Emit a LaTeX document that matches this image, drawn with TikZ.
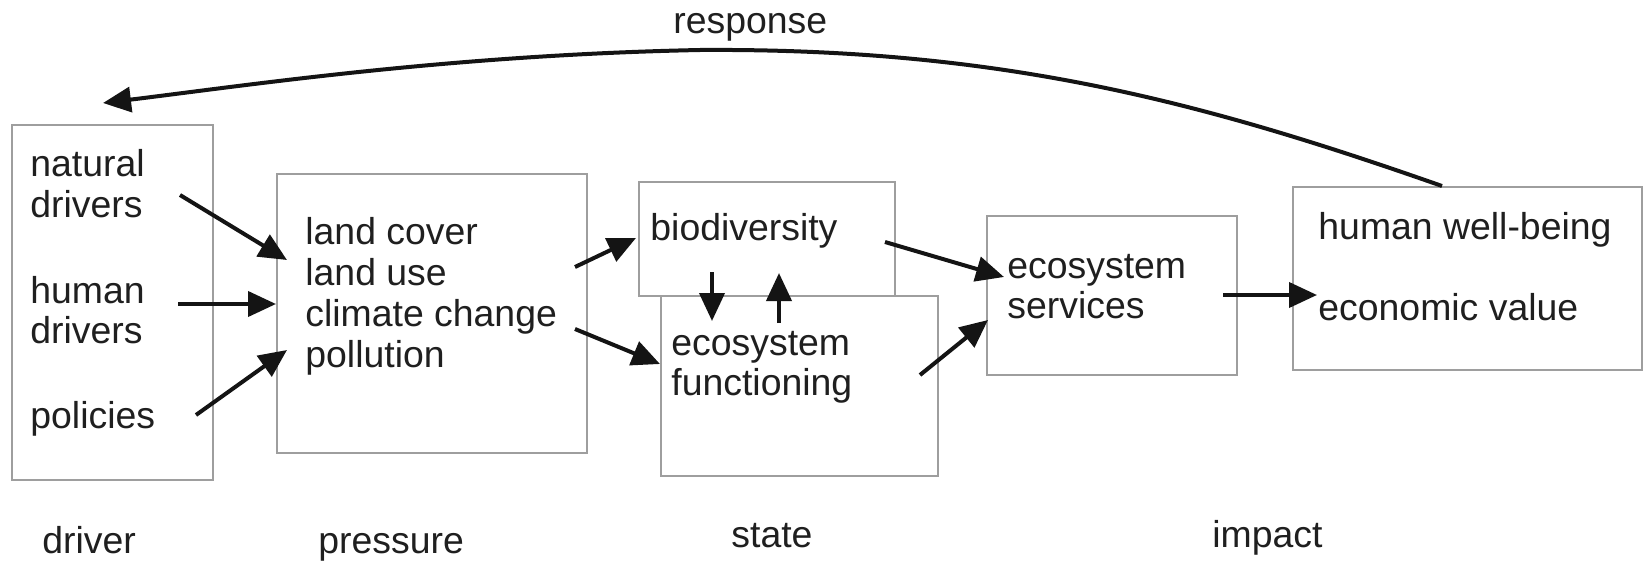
\documentclass[tikz,border=0pt]{standalone}
\usepackage{fontspec}
\setmainfont{Liberation Sans}
\usetikzlibrary{arrows.meta}
\begin{document}
\begin{tikzpicture}[x=0.5pt,y=-0.5pt,
  lbl/.style={anchor=base west, inner sep=0pt, font=\fontsize{18.7pt}{20.5pt}\selectfont, text=black!88},
  box/.style={draw=black!38, line width=0.75pt, fill=white, anchor=north west, inner sep=0pt},
  arr/.style={-{Triangle[length=14pt,width=12.5pt]}, line width=2pt, draw=black!92}]
\useasboundingbox (0,0) rectangle (1645,562);
% boxes
\node[box, minimum width=100.5pt, minimum height=177.5pt] (driverbox) at (11,124) {};
\node[box, minimum width=155pt, minimum height=139.5pt] (pressurebox) at (276,173) {};
\node[box, minimum width=128pt, minimum height=57pt] (biobox) at (638,181) {};
\node[box, minimum width=138.5pt, minimum height=90pt] (funcbox) at (660,295) {};
\node[box, minimum width=125pt, minimum height=79.5pt] (servbox) at (986,215) {};
\node[box, minimum width=174.5pt, minimum height=91.5pt] (wellbox) at (1292,186) {};
% texts
\node[lbl] (t1) at (30,176) {natural};
\node[lbl] (t2) at (30,217) {drivers};
\node[lbl] (t3) at (30,303) {human};
\node[lbl] (t4) at (30,343) {drivers};
\node[lbl] (t5) at (30,428) {policies};
\node[lbl] (p1) at (305,244) {land cover};
\node[lbl] (p2) at (305,285) {land use};
\node[lbl] (p3) at (305,326) {climate change};
\node[lbl] (p4) at (305,367) {pollution};
\node[lbl] (s1) at (650,240) {biodiversity};
\node[lbl] (s2) at (671,355) {ecosystem};
\node[lbl] (s3) at (671,395) {functioning};
\node[lbl] (e1) at (1007,278) {ecosystem};
\node[lbl] (e2) at (1007,318) {services};
\node[lbl] (h1) at (1318,239) {human well-being};
\node[lbl] (h2) at (1318,320) {economic value};
\node[lbl] (resp) at (673,33) {response};
\node[lbl] (ldriver) at (42,553) {driver};
\node[lbl] (lpressure) at (318,553) {pressure};
\node[lbl] (lstate) at (731,547) {state};
\node[lbl] (limpact) at (1212,547) {impact};
% connector end points
\coordinate (a1s) at (180,195); \coordinate (a1e) at (287,260);
\coordinate (a2s) at (178,304); \coordinate (a2e) at (276,304);
\coordinate (a3s) at (196,415); \coordinate (a3e) at (287,350);
\coordinate (a4s) at (575,267); \coordinate (a4e) at (636,238);
\coordinate (a5s) at (575,329); \coordinate (a5e) at (660,364);
\coordinate (a6s) at (712,272); \coordinate (a6e) at (712,321);
\coordinate (a7s) at (779,323); \coordinate (a7e) at (779,273);
\coordinate (a8s) at (885,242); \coordinate (a8e) at (1004,277);
\coordinate (a9s) at (920,375); \coordinate (a9e) at (988,320);
\coordinate (a10s) at (1223,295); \coordinate (a10e) at (1317,295);
\coordinate (rs) at (1442,186); \coordinate (rm) at (700,50); \coordinate (re) at (103,103);
% arrows
\draw[arr] (a1s) -- (a1e);
\draw[arr] (a2s) -- (a2e);
\draw[arr] (a3s) -- (a3e);
\draw[arr] (a4s) -- (a4e);
\draw[arr] (a5s) -- (a5e);
\draw[arr] (a6s) -- (a6e);
\draw[arr] (a7s) -- (a7e);
\draw[arr] (a8s) -- (a8e);
\draw[arr] (a9s) -- (a9e);
\draw[arr] (a10s) -- (a10e);
\draw[arr] (rs) .. controls (1200,101) and (1000,48) .. (rm)
  .. controls (450,55) and (250,85) .. (re);
\end{tikzpicture}
\end{document}
